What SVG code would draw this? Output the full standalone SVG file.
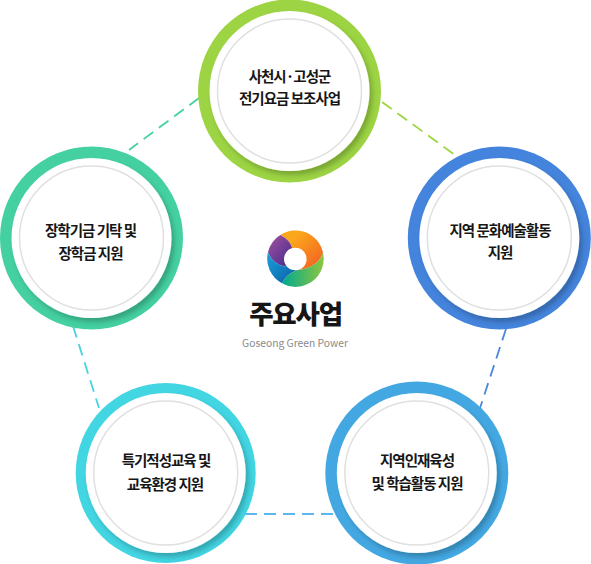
<svg xmlns="http://www.w3.org/2000/svg" width="591" height="564" viewBox="0 0 591 564">
<defs>
<style>
text{font-family:"Noto Sans CJK KR","Noto Sans",sans-serif;text-anchor:middle;fill:#161616}
.t{font-size:14.5px;font-weight:700;letter-spacing:-1px}
.w{fill:#fff;filter:url(#sh)}
.g{fill:none;stroke:#e0e0e0;stroke-width:1.5}
.c{fill:none;stroke-width:1.8;stroke-dasharray:12 7}
</style>
<filter id="sh" x="-30%" y="-30%" width="160%" height="160%"><feDropShadow dx="3" dy="4" stdDeviation="2.5" flood-color="#000" flood-opacity=".22"/></filter>
<linearGradient id="lo" x1="0" y1="0" x2="1" y2="1"><stop offset=".25" stop-color="#fba71b"/><stop offset="1" stop-color="#f15a24"/></linearGradient>
<linearGradient id="lp" x1="0" y1="0" x2="1" y2="1"><stop offset="0" stop-color="#a4519f"/><stop offset="1" stop-color="#3b2a8c"/></linearGradient>
<linearGradient id="lb" x1="0" y1="0" x2="1" y2="1"><stop offset="0" stop-color="#1ba0d8"/><stop offset="1" stop-color="#0a5fa8"/></linearGradient>
<linearGradient id="lg" x1="0" y1="0" x2="1" y2="0"><stop offset="0" stop-color="#00a98f"/><stop offset="1" stop-color="#8dc63f"/></linearGradient>
</defs>
<g id="connectors">
<path class="c" stroke="#45d1a2" d="M199 98L129 150"/>
<path class="c" stroke="#9dd544" d="M382 102L455 155"/>
<path class="c" stroke="#4a86db" d="M506 329L480 408"/>
<path class="c" stroke="#5ab8ec" d="M245 514H336"/>
<path class="c" stroke="#44d4e2" d="M73 326L99 408"/>
</g>
<g id="node-top"><circle cx="289.5" cy="91" r="91.5" fill="#9cd443"/><circle class="w" cx="289.5" cy="91" r="80"/><circle class="g" cx="289.5" cy="91" r="72"/><text class="t" x="289.5" y="82">사천시·고성군</text><text class="t" x="289.5" y="104">전기요금 보조사업</text></g>
<g id="node-right"><circle cx="499.3" cy="238" r="91.5" fill="#4484dc"/><circle class="w" cx="499.3" cy="238" r="80"/><circle class="g" cx="499.3" cy="238" r="72"/><text class="t" x="500" y="236">지역 문화예술활동</text><text class="t" x="500" y="258">지원</text></g>
<g id="node-bottom-right"><circle cx="416.8" cy="473" r="91.5" fill="#43a8e2"/><circle class="w" cx="416.8" cy="473" r="80"/><circle class="g" cx="416.8" cy="473" r="72"/><text class="t" x="417" y="466">지역인재육성</text><text class="t" x="417" y="489">및 학습활동 지원</text></g>
<g id="node-bottom-left"><circle cx="165.7" cy="473" r="90" fill="#42d5e2"/><circle class="w" cx="165.7" cy="473" r="80"/><circle class="g" cx="165.7" cy="473" r="72"/><text class="t" x="166" y="466">특기적성교육 및</text><text class="t" x="165" y="490">교육환경 지원</text></g>
<g id="node-left"><circle cx="91.5" cy="238" r="91.5" fill="#44d0a1"/><circle class="w" cx="91.5" cy="238" r="80"/><circle class="g" cx="91.5" cy="238" r="72"/><text class="t" x="90.5" y="236">장학기금 기탁 및</text><text class="t" x="90.5" y="259">장학금 지원</text></g>
<g id="center">
<path fill="url(#lo)" d="M280.3 235A28 28 0 0 1 323 252.7Q318 268 297 270.3L295 259L292 247.7Q290 240 280.3 235Z"/>
<path fill="url(#lp)" d="M268 252A28 28 0 0 1 280.3 235Q290 240 292 247.7L295 259L285.3 266.7Q272 264 268 252Z"/>
<path fill="url(#lb)" d="M282 283.3A28 28 0 0 1 268 252Q272 264 285.3 266.7L295 259L295 271Q287 274 282 283.3Z"/>
<path fill="url(#lg)" d="M323 252.7A28 28 0 0 1 282 283.3Q287 274 295 271L295 259L297 270.3Q318 268 323 252.7Z"/>
<circle cx="295.3" cy="259" r="11.3" fill="#fff"/>
<text x="295.5" y="323.5" font-size="26.5" font-weight="900" letter-spacing="-1.2">주요사업</text>
<text x="295" y="347" font-size="10.3" style="fill:#8a8a8a">Goseong Green Power</text>
</g>
</svg>
